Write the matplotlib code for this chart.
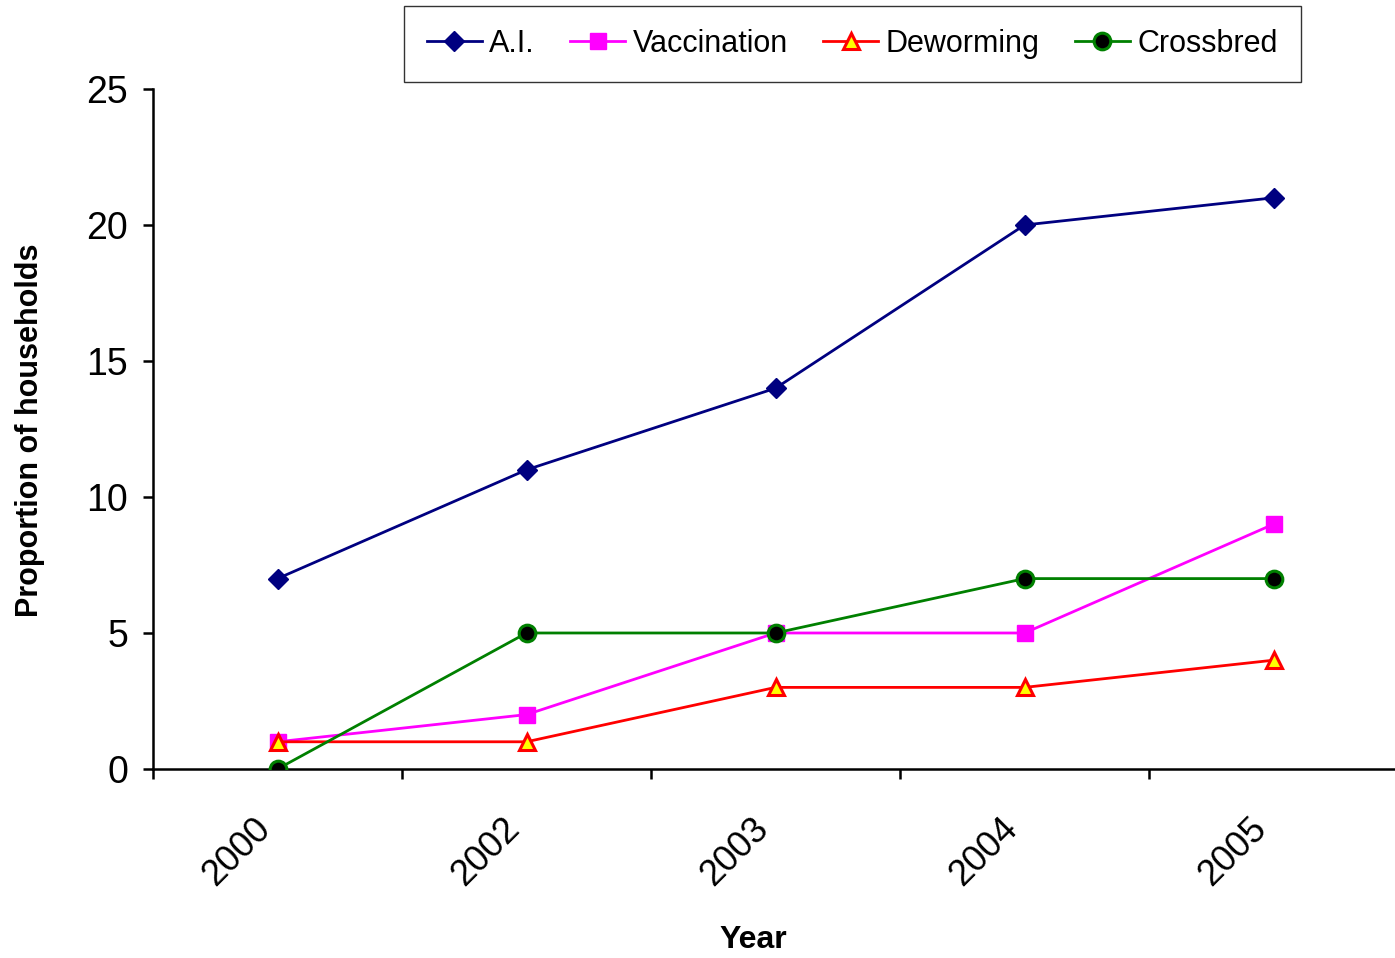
import matplotlib.pyplot as plt
from matplotlib.transforms import ScaledTranslation

# Data for plotting
years = ['2000', '2002', '2003', '2004', '2005']
ai = [7, 11, 14, 20, 21]
vaccination = [1, 2, 5, 5, 9]
deworming = [1, 1, 3, 3, 4]
crossbred = [0, 5, 5, 7, 7]

plt.rcParams['font.family'] = ['Liberation Sans', 'DejaVu Sans']

fig = plt.figure(figsize=(13.95, 9.58), dpi=100)
ax = fig.add_axes([0.1097, 0.1973, 0.8925, 0.7098])

x = range(len(years))
ax.plot(x, ai, color='#000080', lw=2, marker='D', ms=10,
        mfc='#000080', mec='#000080', label='A.I.', zorder=3)
ax.plot(x, vaccination, color='#ff00ff', lw=2, marker='s', ms=12,
        mfc='#ff00ff', mec='#ff00ff', label='Vaccination', zorder=3)
ax.plot(x, deworming, color='#ff0000', lw=2, marker='^', ms=11,
        mfc='#ffff00', mec='#ff0000', mew=2.2, label='Deworming', zorder=4)
ax.plot(x, crossbred, color='#008000', lw=2, marker='o', ms=12,
        mfc='#000000', mec='#008000', mew=2.2, label='Crossbred', zorder=5)

ax.set_xlim(-0.5, 4.5)
ax.set_ylim(0, 25)
ax.set_yticks(range(0, 26, 5))
ax.tick_params(axis='y', labelsize=27, direction='out', length=7, width=1.8, pad=11)

# category ticks sit between the years
ax.set_xticks([i - 0.5 for i in range(len(years) + 1)])
ax.set_xticklabels([])
ax.tick_params(axis='x', direction='out', length=7, width=1.8)
ax.set_xticks(list(x), minor=True)
ax.set_xticklabels(years, minor=True, rotation=45, ha='right', va='center',
                   rotation_mode='anchor', fontsize=26)
ax.tick_params(axis='x', which='minor', length=0, pad=39)
shift = ScaledTranslation(-0.12, 0, fig.dpi_scale_trans)
for lbl in ax.get_xticklabels(minor=True):
    lbl.set_transform(lbl.get_transform() + shift)

for side in ['top', 'right']:
    ax.spines[side].set_visible(False)
ax.spines['left'].set_linewidth(1.8)
ax.spines['bottom'].set_linewidth(1.8)

ax.set_xlabel('Year', fontsize=23, fontweight='bold')
ax.xaxis.set_label_coords(0.482, -0.229)
ax.set_ylabel('Proportion of households', fontsize=22, fontweight='bold')
ax.yaxis.set_label_coords(-0.087, 0.4985)

leg = fig.legend(loc='center', bbox_to_anchor=(0.611, 0.954), ncol=4,
                 fontsize=22, frameon=True, fancybox=False, edgecolor='black',
                 handlelength=1.8, columnspacing=1.15, handletextpad=0.25,
                 borderpad=0.75, borderaxespad=0)
leg.get_frame().set_linewidth(1.0)

fig.savefig('out.png', dpi=100)
